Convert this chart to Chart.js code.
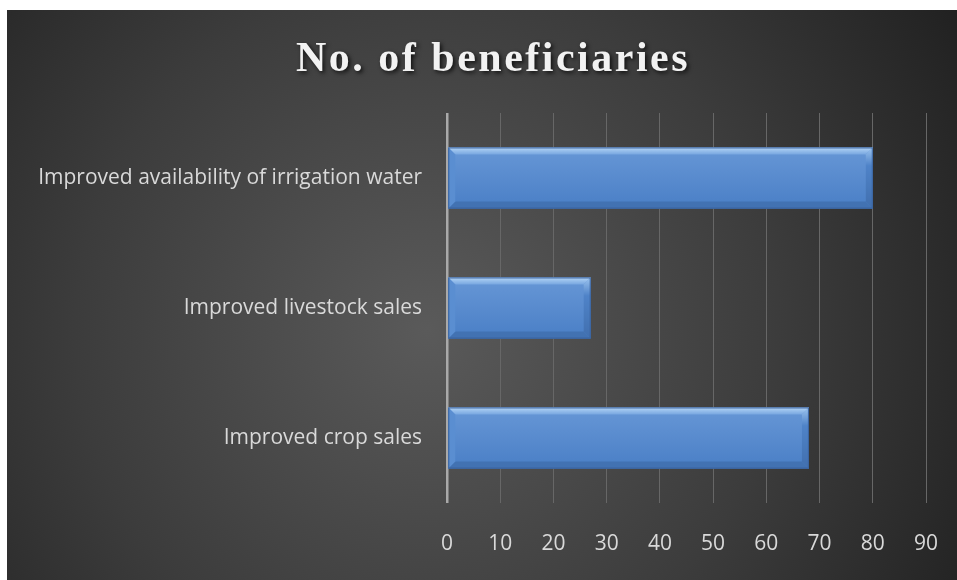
<!DOCTYPE html>
<html lang="en">
<head>
    <meta charset="UTF-8">
    <title>No. of beneficiaries</title>
    <script src="https://cdn.jsdelivr.net/npm/chart.js"></script>
    <style>
        html, body { margin: 0; padding: 0; background: #ffffff; }
        .chart-box {
            position: absolute;
            left: 7px;
            top: 10px;
            width: 950px;
            height: 570px;
        }
    </style>
</head>
<body>
    <div class="chart-box">
        <canvas id="benefitChart"></canvas>
    </div>
    <script>
        const categories = ["Improved availability of irrigation water", "Improved livestock sales", "Improved crop sales"];
        const beneficiaries = [80, 27, 68];
        const tickValues = [0, 10, 20, 30, 40, 50, 60, 70, 80, 90];
        const chartTitle = "No. of beneficiaries";

        // dark radial backdrop like the office chart style
        const backdrop = {
            id: "backdrop",
            beforeDraw(chart) {
                const ctx = chart.ctx;
                const w = chart.width, h = chart.height;
                const g = ctx.createRadialGradient(420, 320, 0, 420, 320, 640);
                g.addColorStop(0, "#5a5a5a");
                g.addColorStop(0.55, "#3c3c3c");
                g.addColorStop(1, "#1f1f1f");
                ctx.save();
                ctx.fillStyle = g;
                ctx.fillRect(0, 0, w, h);
                ctx.restore();
            }
        };

        const titleText = {
            id: "titleText",
            afterDraw(chart) {
                const ctx = chart.ctx;
                ctx.save();
                ctx.font = "bold 42px 'Liberation Serif', 'Times New Roman', serif";
                ctx.letterSpacing = "2.5px";
                ctx.textAlign = "center";
                ctx.textBaseline = "alphabetic";
                ctx.shadowColor = "rgba(0,0,0,0.75)";
                ctx.shadowBlur = 4;
                ctx.shadowOffsetX = 2;
                ctx.shadowOffsetY = 2;
                ctx.fillStyle = "#f2f2f2";
                ctx.fillText(chartTitle, 486, 61);
                ctx.restore();
            }
        };

        // drop shadow under the bars, then bevel on top of them
        const bevelBars = {
            id: "bevelBars",
            beforeDatasetsDraw(chart) {
                const ctx = chart.ctx;
                ctx.save();
                ctx.shadowColor = "rgba(0,0,0,0.65)";
                ctx.shadowBlur = 8;
                ctx.shadowOffsetX = 3;
                ctx.shadowOffsetY = 4;
            },
            afterDatasetsDraw(chart) {
                const ctx = chart.ctx;
                ctx.restore();
                const meta = chart.getDatasetMeta(0);
                const b = 7;
                meta.data.forEach(function(bar) {
                    const p = bar.getProps(["x", "y", "base", "height"], true);
                    const L = Math.min(p.x, p.base), R = Math.max(p.x, p.base);
                    const T = p.y - p.height / 2, B = p.y + p.height / 2;

                    ctx.save();
                    const face = ctx.createLinearGradient(0, T, 0, B);
                    face.addColorStop(0, "#6797d6");
                    face.addColorStop(1, "#4a7fc6");
                    ctx.fillStyle = face;
                    ctx.fillRect(L, T, R - L, B - T);

                    const top = ctx.createLinearGradient(0, T, 0, T + b);
                    top.addColorStop(0, "#b4d5f6");
                    top.addColorStop(1, "#78a7e0");
                    poly(ctx, [[L, T], [R, T], [R - b, T + b], [L + b, T + b]], top);
                    poly(ctx, [[L, B], [R, B], [R - b, B - b], [L + b, B - b]], "#4272b2");
                    poly(ctx, [[L, T], [L + b, T + b], [L + b, B - b], [L, B]], "#5a8ed1");
                    const right = ctx.createLinearGradient(0, T, 0, B);
                    right.addColorStop(0, "#9cc4ef");
                    right.addColorStop(0.3, "#4f83c8");
                    right.addColorStop(1, "#416fae");
                    poly(ctx, [[R, T], [R - b, T + b], [R - b, B - b], [R, B]], right);

                    ctx.strokeStyle = "#3a639e";
                    ctx.lineWidth = 1;
                    ctx.strokeRect(L + 0.5, T + 0.5, R - L - 1, B - T - 1);
                    ctx.restore();
                });
            }
        };

        function poly(ctx, pts, fill) {
            ctx.beginPath();
            ctx.moveTo(pts[0][0], pts[0][1]);
            for (let i = 1; i < pts.length; i++) ctx.lineTo(pts[i][0], pts[i][1]);
            ctx.closePath();
            ctx.fillStyle = fill;
            ctx.fill();
        }

        const ctx = document.getElementById("benefitChart").getContext("2d");
        new Chart(ctx, {
            type: "bar",
            data: {
                labels: categories,
                datasets: [{
                    label: chartTitle,
                    data: beneficiaries,
                    backgroundColor: "#5a8fd2",
                    borderColor: "#3a639e",
                    borderWidth: 1,
                    barPercentage: 0.47,
                    categoryPercentage: 1.0,
                }],
            },
            options: {
                indexAxis: "y",
                responsive: true,
                maintainAspectRatio: false,
                animation: false,
                layout: {
                    padding: { top: 103, right: 31, bottom: 0, left: 0 }
                },
                plugins: {
                    legend: { display: false },
                    title: { display: false },
                    tooltip: { enabled: false },
                },
                scales: {
                    x: {
                        min: 0,
                        max: 90,
                        afterBuildTicks: function(scale) {
                            scale.ticks = tickValues.map(v => ({ value: v }));
                        },
                        afterFit: function(scale) {
                            scale.height = 77;
                            scale.paddingRight = 0;
                            scale.paddingLeft = 0;
                        },
                        grid: {
                            drawTicks: false,
                            color: c => c.index === 0 ? "#a9a9a9" : "#676767",
                            lineWidth: c => c.index === 0 ? 2.5 : 1,
                        },
                        border: { display: false },
                        ticks: {
                            padding: 28,
                            color: "#d9d9d9",
                            font: { family: "'Open Sans', sans-serif", size: 21 },
                        },
                    },
                    y: {
                        afterFit: function(scale) { scale.width = 440; },
                        grid: { display: false, drawTicks: false },
                        border: { display: false },
                        ticks: {
                            padding: 25,
                            color: "#d9d9d9",
                            font: { family: "'Open Sans', sans-serif", size: 21 },
                        },
                    },
                },
            },
            plugins: [backdrop, bevelBars, titleText],
        });
    </script>
</body>
</html>
